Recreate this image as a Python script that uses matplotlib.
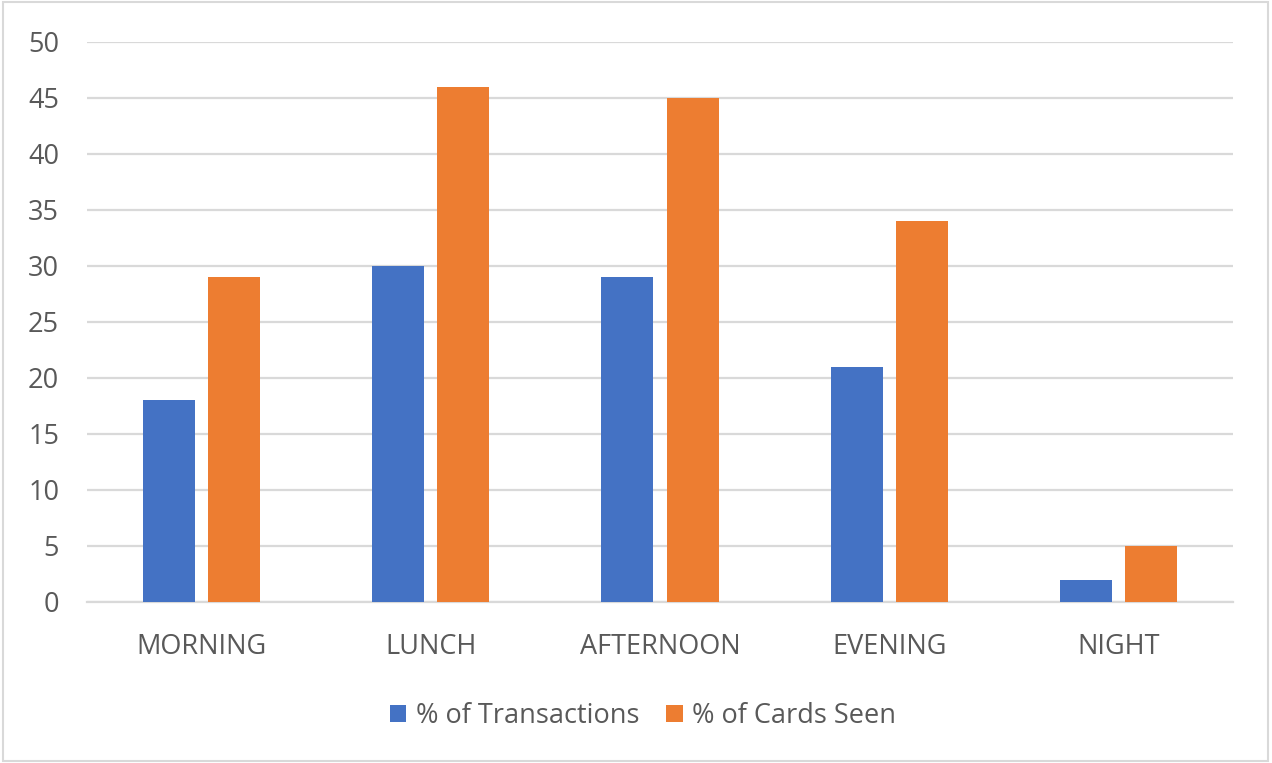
import matplotlib
matplotlib.use("Agg")
import matplotlib.pyplot as plt
import numpy as np
from matplotlib.patches import Rectangle

# dados
periodos = ["MORNING", "LUNCH", "AFTERNOON", "EVENING", "NIGHT"]
transacoes = [18, 30, 29, 21, 2]
cartoes = [29, 46, 45, 34, 5]
series_nomes = ["% of Transactions", "% of Cards Seen"]

azul = "#4472C4"
laranja = "#ED7D31"
cinza_texto = "#595959"
cinza_grade = "#D9D9D9"

plt.rcParams['font.family'] = ['Open Sans', 'DejaVu Sans']

fig = plt.figure(figsize=(12.72, 7.63), dpi=100)
ax = fig.add_axes([87 / 1272, 1 - 602 / 763, (1233 - 87) / 1272, (602 - 42) / 763])

x = np.arange(len(periodos))
largura = 0.227
desloc = 0.142
ax.bar(x - desloc, transacoes, largura, color=azul, label=series_nomes[0], zorder=3)
ax.bar(x + desloc, cartoes, largura, color=laranja, label=series_nomes[1], zorder=3)

ax.set_xlim(-0.5, len(periodos) - 0.5)
ax.set_ylim(0, 50)
ax.set_yticks(range(0, 51, 5))
ax.set_xticks(x)
ax.set_xticklabels(periodos)

ax.grid(axis='y', color=cinza_grade, linewidth=1.6, zorder=0)
for lado in ['top', 'right', 'left']:
    ax.spines[lado].set_visible(False)
ax.spines['bottom'].set_color(cinza_grade)
ax.spines['bottom'].set_linewidth(1.6)
ax.tick_params(axis='both', length=0, labelsize=19.5, labelcolor=cinza_texto)
ax.tick_params(axis='y', pad=20)
ax.tick_params(axis='x', pad=22)

fig.legend(loc='center', bbox_to_anchor=(643 / 1272, 1 - 716 / 763), ncol=2,
           frameon=False, fontsize=19.5, labelcolor=cinza_texto,
           handlelength=0.6, handleheight=0.6, handletextpad=0.35, columnspacing=1.0)

# borda do gráfico estilo Excel
fig.patches.append(Rectangle((0.002, 0.003), 0.995, 0.994, transform=fig.transFigure,
                             fill=False, edgecolor=cinza_grade, linewidth=1.5))

fig.savefig("out.png", dpi=100)
